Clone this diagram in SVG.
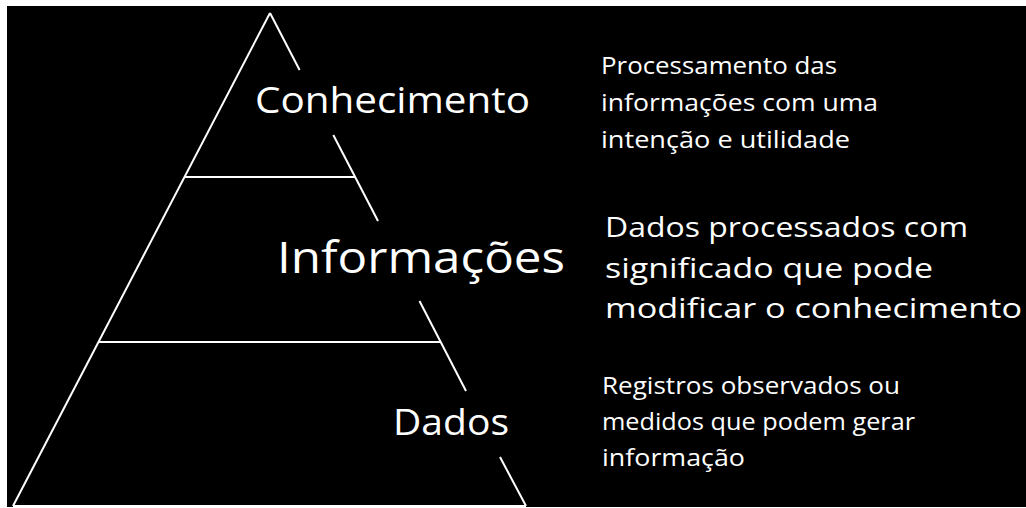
<svg xmlns="http://www.w3.org/2000/svg" width="1026" height="508" viewBox="0 0 1026 508">
<style>
.ln{stroke:#fff;stroke-width:2;fill:none;stroke-linecap:butt}
.t{fill:#fff;font-family:"Segoe Print","Open Sans","DejaVu Sans",sans-serif}
.big{font-size:36px}
.mid{font-size:43px}
.d1{font-size:23px}
.d2{font-size:27px}
</style>
<rect x="0" y="0" width="1026" height="508" fill="#fff"/>
<rect x="7" y="6" width="1019" height="501" fill="#000"/>
<g id="pyramid">
<line class="ln" x1="270" y1="13" x2="13" y2="506"/>
<line class="ln" x1="13" y1="506" x2="526" y2="506"/>
<line class="ln" x1="184.5" y1="177" x2="355" y2="177"/>
<line class="ln" x1="98.6" y1="342" x2="440.8" y2="342"/>
<line class="ln" x1="270" y1="13" x2="299.6" y2="70"/>
<line class="ln" x1="333.3" y1="135" x2="378" y2="221"/>
<line class="ln" x1="419.5" y1="301" x2="466" y2="391"/>
<line class="ln" x1="500" y1="457" x2="526" y2="506"/>
</g>
<g id="conhecimento">
<text class="t big" x="255" y="113" textLength="275" lengthAdjust="spacingAndGlyphs">Conhecimento</text>
<text class="t d1" x="601" y="74" textLength="236" lengthAdjust="spacingAndGlyphs">Processamento das</text>
<text class="t d1" x="601" y="111" textLength="277" lengthAdjust="spacingAndGlyphs">informações com uma</text>
<text class="t d1" x="601" y="148" textLength="249" lengthAdjust="spacingAndGlyphs">intenção e utilidade</text>
</g>
<g id="informacoes">
<text class="t mid" x="277" y="273" textLength="288" lengthAdjust="spacingAndGlyphs">Informações</text>
<text class="t d2" x="605" y="237" textLength="363" lengthAdjust="spacingAndGlyphs">Dados processados com</text>
<text class="t d2" x="605" y="278" textLength="328" lengthAdjust="spacingAndGlyphs">significado que pode</text>
<text class="t d2" x="605" y="318" textLength="417" lengthAdjust="spacingAndGlyphs">modificar o conhecimento</text>
</g>
<g id="dados">
<text class="t big" x="393" y="435" textLength="116" lengthAdjust="spacingAndGlyphs">Dados</text>
<text class="t d1" x="602" y="394" textLength="298" lengthAdjust="spacingAndGlyphs">Registros observados ou</text>
<text class="t d1" x="602" y="430" textLength="313" lengthAdjust="spacingAndGlyphs">medidos que podem gerar</text>
<text class="t d1" x="602" y="466" textLength="143" lengthAdjust="spacingAndGlyphs">informação</text>
</g>
</svg>
